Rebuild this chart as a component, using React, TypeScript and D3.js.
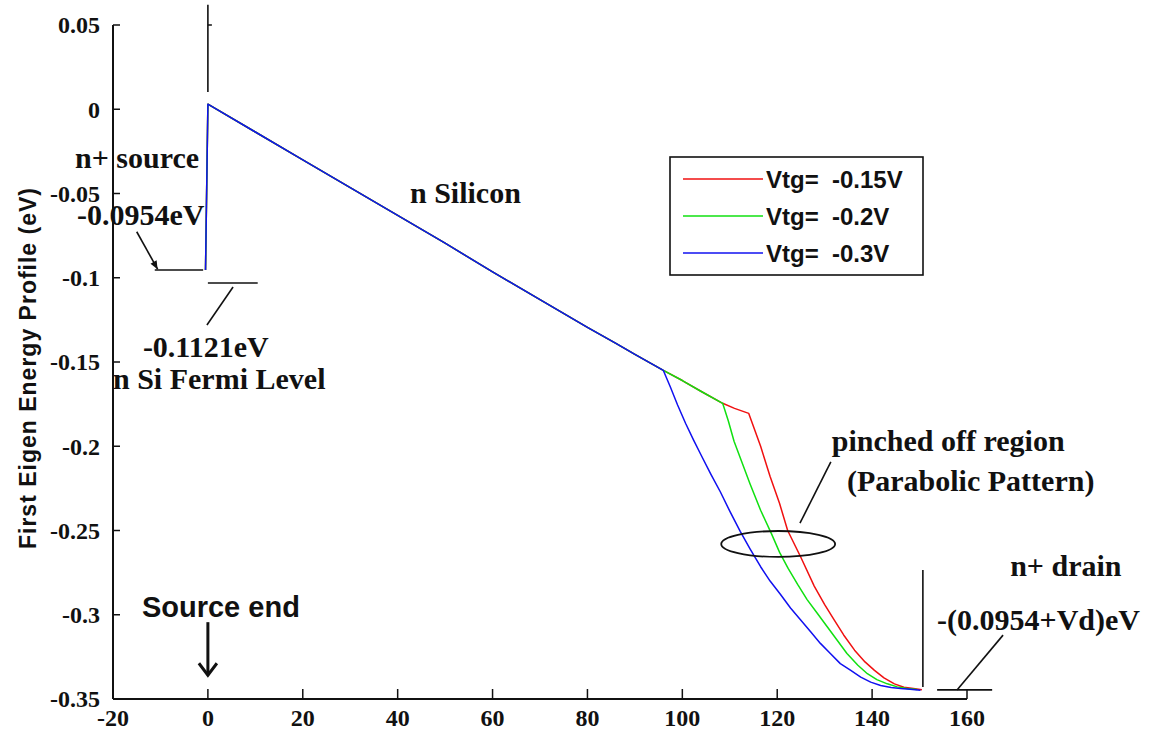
import React from "react";
import * as d3 from "d3";

// ---------- data ----------
const xTicks = [-20, 0, 20, 40, 60, 80, 100, 120, 140, 160];
const yTicks = [0.05, 0, -0.05, -0.1, -0.15, -0.2, -0.25, -0.3, -0.35];

const sharedPoints: [number, number][] = [
  [-0.5, -0.0954], [0, 0.003], [10, -0.0135], [20, -0.03], [30, -0.0465], [40, -0.063],
  [50, -0.0795], [60, -0.0965], [70, -0.113], [80, -0.1295], [86, -0.139], [90, -0.1455], [96, -0.155],
];
const redTail: [number, number][] = [
  [100, -0.161], [104, -0.1675], [108.5, -0.1745], [111, -0.1775], [114, -0.1805], [116.5, -0.2],
  [118.5, -0.218], [120.5, -0.234], [122.2, -0.25], [125, -0.266], [127.8, -0.283], [130, -0.294],
  [132, -0.303], [134, -0.312], [136.3, -0.321], [138.5, -0.328], [140.5, -0.333], [142.5, -0.3375],
  [144.7, -0.341], [146.7, -0.343], [148.7, -0.3438], [150.5, -0.3445],
];
const greenTail: [number, number][] = [
  [100, -0.161], [104, -0.1675], [108.5, -0.1745], [109.7, -0.185], [110.9, -0.197], [112.5, -0.209],
  [114.3, -0.2225], [116.5, -0.238], [118.8, -0.252], [120.5, -0.263], [122.3, -0.2725], [124.3, -0.282],
  [126.3, -0.291], [128.4, -0.299], [130.5, -0.307], [132.6, -0.315], [134.7, -0.323], [137, -0.33],
  [139, -0.335], [141, -0.3385], [143.2, -0.341], [145.3, -0.3428], [147.4, -0.3438], [149.5, -0.3444],
];
const blueTail: [number, number][] = [
  [97.5, -0.165], [99, -0.1755], [100.7, -0.1865], [102.4, -0.1965], [104, -0.2055], [106, -0.2165],
  [108, -0.227], [110, -0.2385], [112.2, -0.2505], [114.3, -0.261], [116.5, -0.2715], [118.5, -0.28],
  [120.7, -0.288], [122.8, -0.296], [124.9, -0.303], [127, -0.31], [129.1, -0.317], [131.2, -0.323],
  [133.3, -0.329], [135.5, -0.333], [137.6, -0.337], [139.7, -0.34], [141.8, -0.342], [144, -0.3432],
  [146, -0.3438], [148, -0.3442], [150.2, -0.3448],
];

const seriesNames = ["Vtg= -0.15V", "Vtg= -0.2V", "Vtg= -0.3V"];
const seriesColors = ["#f01010", "#10e010", "#1010f0"];
const seriesTails = [redTail, greenTail, blueTail];

// annotation texts, in data units
const serifNotes: { t: string; x: number; y: number }[] = [
  { t: "n+ source", x: -28.0, y: -0.0349 },
  { t: "-0.0954eV", x: -27.6, y: -0.0685 },
  { t: "-0.1121eV", x: -13.7, y: -0.147 },
  { t: "n Si Fermi Level", x: -20.0, y: -0.166 },
  { t: "n Silicon", x: 42.6, y: -0.0557 },
  { t: "pinched off region", x: 131.5, y: -0.2028 },
  { t: "(Parabolic Pattern)", x: 134.7, y: -0.2266 },
  { t: "n+ drain", x: 169.1, y: -0.277 },
  { t: "-(0.0954+Vd)eV", x: 153.7, y: -0.309 },
];

// annotation line segments, in data units
const noteLines: [number, number, number, number][] = [
  [-11.2, -0.0954, -1.0, -0.0954],
  [0, -0.1031, 10.5, -0.1031],
  [5.3, -0.1055, -0.2, -0.128],
  [0, 0.062, 0, 0.0102],
  [150.7, -0.2735, 150.7, -0.3429],
  [153.7, -0.3446, 165.3, -0.3446],
  [157.9, -0.3446, 167.6, -0.3121],
  [124.8, -0.2456, 131.3, -0.2093],
];

const W = 1152;
const H = 738;

export default function App() {
  const x = d3.scaleLinear().domain([-20, 160]).range([113, 967]);
  const y = d3.scaleLinear().domain([-0.35, 0.05]).range([699, 25]);
  const line = d3
    .line<[number, number]>()
    .x((d) => x(d[0]))
    .y((d) => y(d[1]));

  const serif = "'Liberation Serif', 'Times New Roman', serif";
  const sans = "'Liberation Sans', Arial, sans-serif";

  // arrow from -0.0954eV label
  const a0 = [x(-15), y(-0.0727)];
  const a1 = [x(-10.6), y(-0.0949)];
  const ang = Math.atan2(a1[1] - a0[1], a1[0] - a0[0]);
  const ah = 9;
  const arrowHead = `M${a1[0]},${a1[1]} L${a1[0] - ah * Math.cos(ang - 0.4)},${a1[1] - ah * Math.sin(ang - 0.4)} L${a1[0] - ah * Math.cos(ang + 0.4)},${a1[1] - ah * Math.sin(ang + 0.4)} Z`;

  // source-end arrow
  const sx = x(0);
  const sTop = y(-0.3044);
  const sBot = y(-0.3359);

  // ellipse
  const ecx = x(120.2);
  const ecy = y(-0.258);
  const erx = x(132.2) - x(120.2);
  const ery = y(-0.258) - y(-0.2503);

  return (
    <svg
      width={W}
      height={H}
      style={{ position: "absolute", left: 0, top: 0, background: "#fff" }}
    >
      {/* data lines */}
      {seriesTails.map((tail, i) => (
        <path
          key={i}
          d={line([...sharedPoints, ...tail]) || ""}
          fill="none"
          stroke={seriesColors[i]}
          strokeWidth={1.5}
          strokeLinejoin="round"
        />
      ))}

      {/* annotation lines */}
      {noteLines.map((l, i) => (
        <line
          key={i}
          x1={x(l[0])}
          y1={y(l[1])}
          x2={x(l[2])}
          y2={y(l[3])}
          stroke="#111"
          strokeWidth={1.6}
        />
      ))}
      {/* small tick on top vertical line */}
      <line x1={x(0)} x2={x(0) + 4} y1={y(0.05)} y2={y(0.05)} stroke="#111" strokeWidth={1.5} />
      <line x1={a0[0]} y1={a0[1]} x2={a1[0]} y2={a1[1]} stroke="#111" strokeWidth={1.6} />
      <path d={arrowHead} fill="#111" />
      <ellipse cx={ecx} cy={ecy} rx={erx} ry={ery} fill="none" stroke="#111" strokeWidth={1.8} />

      {/* Source end arrow */}
      <line x1={sx} x2={sx} y1={sTop} y2={sBot} stroke="#111" strokeWidth={3} />
      <path
        d={`M${sx - 9},${sBot - 12} L${sx},${sBot} L${sx + 9},${sBot - 12}`}
        fill="none"
        stroke="#111"
        strokeWidth={3}
      />
      <text
        x={x(-13.9)}
        y={y(-0.3013)}
        fontFamily={sans}
        fontWeight="bold"
        fontSize={29}
        fill="#111"
      >
        Source end
      </text>

      {/* serif annotation texts */}
      {serifNotes.map((n, i) => (
        <text
          key={i}
          x={x(n.x)}
          y={y(n.y)}
          fontFamily={serif}
          fontWeight="bold"
          fontSize={30}
          fill="#111"
        >
          {n.t}
        </text>
      ))}

      {/* axes */}
      <line x1={x(-20)} x2={x(160)} y1={y(-0.35)} y2={y(-0.35)} stroke="#111" strokeWidth={2} />
      <line x1={x(-20)} x2={x(-20)} y1={y(-0.35)} y2={y(0.05)} stroke="#111" strokeWidth={2} />
      {xTicks.map((t) => (
        <g key={t}>
          <line x1={x(t)} x2={x(t)} y1={y(-0.35)} y2={y(-0.35) - 10} stroke="#111" strokeWidth={1.5} />
          <text
            x={x(t)}
            y={726}
            textAnchor="middle"
            fontFamily={serif}
            fontWeight="bold"
            fontSize={24}
            fill="#111"
          >
            {t}
          </text>
        </g>
      ))}
      {yTicks.map((t) => (
        <g key={t}>
          <line x1={x(-20)} x2={x(-20) + 7} y1={y(t)} y2={y(t)} stroke="#111" strokeWidth={1.5} />
          <text
            x={100}
            y={y(t)}
            dy="0.35em"
            textAnchor="end"
            fontFamily={serif}
            fontWeight="bold"
            fontSize={24}
            fill="#111"
          >
            {t === 0 ? "0" : String(t)}
          </text>
        </g>
      ))}
      <text
        transform={`translate(28,368) rotate(-90)`}
        textAnchor="middle"
        dy="0.35em"
        fontFamily={sans}
        fontWeight="bold"
        fontSize={23}
        letterSpacing={1}
        fill="#111"
      >
        First Eigen Energy Profile (eV)
      </text>

      {/* legend */}
      <rect x={670} y={157} width={253} height={118} fill="#fff" stroke="#111" strokeWidth={1.6} />
      {seriesNames.map((n, i) => {
        const ry = 179 + i * 37;
        return (
          <g key={n}>
            <line x1={683} x2={763} y1={ry} y2={ry} stroke={seriesColors[i]} strokeWidth={1.6} />
            <text
              x={766}
              y={ry}
              dy="0.36em"
              fontFamily={sans}
              fontWeight="bold"
              fontSize={24}
              fill="#111"
              style={{ whiteSpace: "pre" }}
            >
              {n.replace("= ", "=  ")}
            </text>
          </g>
        );
      })}
    </svg>
  );
}
